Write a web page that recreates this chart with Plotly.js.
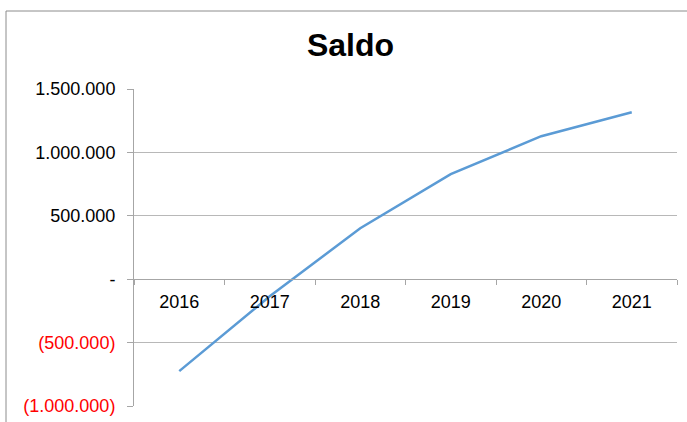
<!DOCTYPE html>
<html>
<head>
<meta charset="utf-8">
<script src="https://cdn.plot.ly/plotly-3.0.1.min.js"></script>
<style>
  html, body { margin: 0; padding: 0; background: #fff; }
  #chart { width: 687px; height: 422px; }
</style>
</head>
<body>
<div id="chart"></div>
<script>
// ---- data ----
var years = ['2016', '2017', '2018', '2019', '2020', '2021'];
var saldo = [-725000, -135000, 402000, 828000, 1128000, 1317000];
var yTickVals = [-1000000, -500000, 0, 500000, 1000000, 1500000];
var yTickLabels = ['(1.000.000)', '(500.000)', '-', '500.000', '1.000.000', '1.500.000'];
var chartTitle = 'Saldo';

// ---- build ----
var yTickText = yTickLabels.map(function (t, i) {
  return yTickVals[i] < 0 ? '<span style="color:#ff0000">' + t + '</span>' : t;
});

var W = 687, H = 422;
var L = 134, R = 677, T = 89, B = 406;
var zeroPos = (B - ((B - T) * (1500000 / 2500000) + T)) / (B - T);
// zero value pixel: T + (1.5/2.5)*(B-T)
var zeroPx = T + (1500000 / 2500000) * (B - T);
zeroPos = (B - zeroPx) / (B - T);

var gray = '#a6a6a6';
var gridGray = '#b8b8b8';

var trace = {
  x: years,
  y: saldo,
  type: 'scatter',
  mode: 'lines',
  line: { color: '#5b9bd5', width: 2.5 },
  hoverinfo: 'skip'
};

function px2paperX(px) { return (px - L) / (R - L); }
function px2paperY(py) { return (B - py) / (B - T); }

var layout = {
  width: W,
  height: H,
  margin: { l: L, r: W - R, t: T, b: H - B, pad: 0 },
  paper_bgcolor: '#ffffff',
  plot_bgcolor: '#ffffff',
  showlegend: false,
  font: { family: '"Liberation Sans", Arial, sans-serif', size: 18, color: '#000000' },
  title: {
    text: '<b>' + chartTitle + '</b>',
    font: { family: '"Liberation Sans", Arial, sans-serif', size: 32, color: '#000000' },
    xref: 'container', yref: 'container',
    x: 350.5 / W, xanchor: 'center',
    y: 1 - 45 / H, yanchor: 'middle'
  },
  xaxis: {
    type: 'category',
    range: [-0.5, 5.5],
    anchor: 'free',
    position: zeroPos,
    showline: true,
    linecolor: gray,
    linewidth: 1,
    showgrid: false,
    zeroline: false,
    ticks: 'outside',
    tickson: 'boundaries',
    ticklen: 5,
    tickcolor: gray,
    tickwidth: 1,
    ticklabelstandoff: 6,
    tickfont: { size: 18, color: '#000000' },
    fixedrange: true
  },
  yaxis: {
    range: [-1000000, 1500000],
    tickvals: yTickVals,
    ticktext: yTickText,
    showline: true,
    linecolor: gray,
    linewidth: 1,
    showgrid: true,
    gridcolor: gridGray,
    gridwidth: 1,
    zeroline: false,
    ticks: 'outside',
    ticklen: 6,
    tickcolor: gray,
    tickwidth: 1,
    ticklabelstandoff: 8,
    tickfont: { size: 18, color: '#000000' },
    fixedrange: true
  },
  shapes: [
    {
      type: 'rect', xref: 'paper', yref: 'paper',
      x0: px2paperX(6), x1: px2paperX(900),
      y0: px2paperY(900), y1: px2paperY(11),
      line: { color: '#8c8c8c', width: 1 },
      fillcolor: 'rgba(0,0,0,0)',
      layer: 'below'
    }
  ]
};

Plotly.newPlot('chart', [trace], layout, { staticPlot: true, displayModeBar: false });
</script>
</body>
</html>
